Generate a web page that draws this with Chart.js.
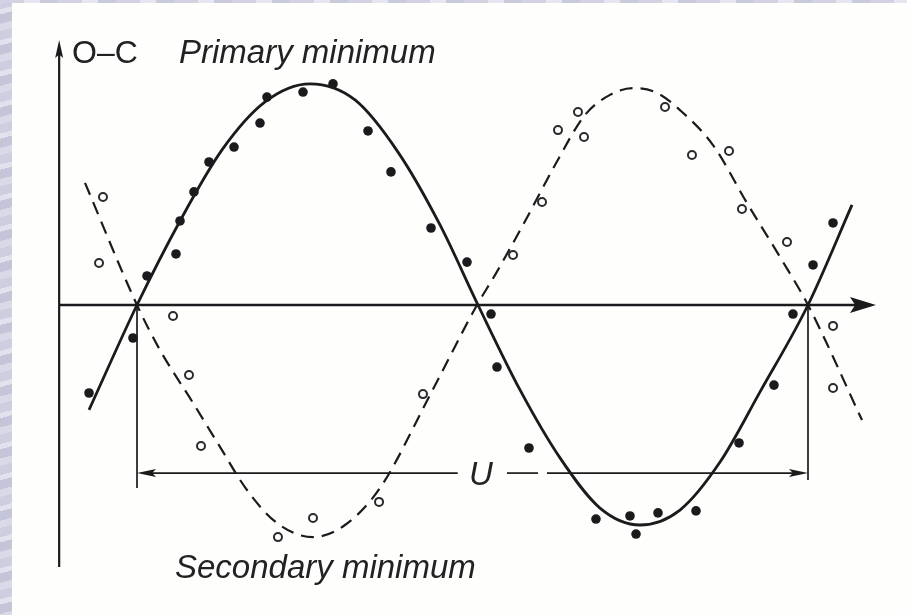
<!DOCTYPE html>
<html>
<head>
<meta charset="utf-8">
<title>O–C diagram</title>
<script src="https://cdn.jsdelivr.net/npm/chart.js@4/dist/chart.umd.min.js"></script>
<style>
  html, body { margin: 0; padding: 0; background: #fff; }
  #wrap { position: relative; width: 907px; height: 615px; background: #fefefd; overflow: hidden; }
  #edgeL {
    position: absolute; left: 0; top: 0; width: 12px; height: 615px;
    background: repeating-linear-gradient(165deg, #cdcee0 0 9px, #e2e2ee 9px 14px, #c4c5d9 14px 23px, #d9d9e8 23px 30px);
  }
  #edgeT {
    position: absolute; left: 0; top: 0; width: 907px; height: 3px;
    background: repeating-linear-gradient(90deg, #d2d2e2 0 24px, #e6e6f0 24px 40px, #c9cadc 40px 58px);
  }
  canvas { position: absolute; left: 0; top: 0; }
</style>
</head>
<body>
<div id="wrap">
  <div id="edgeL"></div>
  <div id="edgeT"></div>
  <canvas id="grafico" width="907" height="615"></canvas>
</div>
<script>
// phase in units of the apsidal period U, O-C in units of the amplitude

// fitted curve for the primary minima (solid)
const curvaPrimPhase = [-0.0715, 0, 0.0641, 0.1267, 0.1908, 0.2578, 0.3249, 0.389, 0.4516, 0.5082,
  0.5708, 0.6304, 0.69, 0.7496, 0.8092, 0.8689, 0.9285, 1.0, 1.0656];
const curvaPrimOC = [-0.477, 0, 0.382, 0.705, 0.923, 1.005, 0.932, 0.695, 0.364, 0,
  -0.386, -0.695, -0.923, -1.0, -0.932, -0.714, -0.395, 0, 0.455];

// fitted curve for the secondary minima (dashed)
const curvaSecPhase = [-0.0775, 0, 0.0343, 0.0835, 0.1237, 0.1639, 0.2086, 0.2623, 0.31, 0.3621, 0.4367, 0.5067,
  0.5335, 0.5753, 0.623, 0.6677, 0.7049, 0.7392, 0.775, 0.8092, 0.8584, 0.909, 0.9583, 1.0, 1.0805];
const curvaSecOC = [0.555, 0, -0.205, -0.445, -0.645, -0.841, -0.991, -1.055, -1.0, -0.832, -0.409, 0,
  0.136, 0.364, 0.636, 0.864, 0.955, 0.986, 0.964, 0.886, 0.727, 0.464, 0.218, 0, -0.523];

// observed primary minima (filled dots)
const primPhase = [-0.0715, -0.006, 0.0149, 0.0581, 0.0641, 0.0849, 0.1073, 0.1446, 0.1833, 0.1937,
  0.2474, 0.2921, 0.3443, 0.3785, 0.4382, 0.4918, 0.5276, 0.5365, 0.5842, 0.684, 0.7347, 0.7437,
  0.7765, 0.8331, 0.8972, 0.9493, 0.9776, 1.0075, 1.0373];
const primOC = [-0.4, -0.15, 0.132, 0.232, 0.382, 0.514, 0.65, 0.718, 0.827, 0.945,
  0.968, 1.005, 0.791, 0.605, 0.35, 0.195, -0.041, -0.282, -0.65, -0.973, -0.959, -1.041,
  -0.945, -0.936, -0.627, -0.364, -0.041, 0.182, 0.373];

// observed secondary minima (open circles)
const secPhase = [-0.0566, -0.0507, 0.0537, 0.0775, 0.0954, 0.2101, 0.2623, 0.3607, 0.4262, 0.5604,
  0.6036, 0.6274, 0.6572, 0.6662, 0.7869, 0.8271, 0.8823, 0.9016, 0.9687, 1.0373, 1.0373];
const secOC = [0.191, 0.491, -0.05, -0.318, -0.641, -1.055, -0.968, -0.895, -0.405, 0.227,
  0.468, 0.795, 0.877, 0.764, 0.9, 0.682, 0.7, 0.436, 0.286, -0.095, -0.377];

// axis frame and the U bracket
const eixoPhase = -0.116;
const eixoFimPhase = 1.1013;
const eixoTopo = 1.2045;
const eixoBase = -1.191;
const quedaEsq = -0.832;
const quedaDir = -0.795;
const nivelU = -0.764;

const cor = '#1b1b1d';

function pares(xs, ys) {
  return xs.map((x, i) => ({ x: x, y: ys[i] }));
}

function seta(ctx, x, y, ang, comp, meia) {
  ctx.save();
  ctx.translate(x, y);
  ctx.rotate(ang);
  ctx.beginPath();
  ctx.moveTo(0, 0);
  ctx.lineTo(-comp, -meia);
  ctx.lineTo(-comp * 0.8, 0);
  ctx.lineTo(-comp, meia);
  ctx.closePath();
  ctx.fill();
  ctx.restore();
}

function linha(ctx, x1, y1, x2, y2, w) {
  ctx.lineWidth = w;
  ctx.beginPath();
  ctx.moveTo(x1, y1);
  ctx.lineTo(x2, y2);
  ctx.stroke();
}

const eixosPlugin = {
  id: 'eixos',
  beforeDatasetsDraw(chart) {
    const ctx = chart.ctx;
    const sx = chart.scales.x, sy = chart.scales.y;
    const xa = sx.getPixelForValue(eixoPhase);
    const xf = sx.getPixelForValue(eixoFimPhase);
    const y0 = sy.getPixelForValue(0);
    const x0 = sx.getPixelForValue(0);
    const x1 = sx.getPixelForValue(1);
    const yU = sy.getPixelForValue(nivelU);

    ctx.save();
    ctx.strokeStyle = cor;
    ctx.fillStyle = cor;
    ctx.lineCap = 'butt';

    // O-C axis
    linha(ctx, xa, sy.getPixelForValue(eixoBase), xa, sy.getPixelForValue(eixoTopo) + 10, 2.2);
    seta(ctx, xa, sy.getPixelForValue(eixoTopo), -Math.PI / 2, 18, 4);

    // phase axis
    linha(ctx, xa, y0, xf - 18, y0, 2.4);
    seta(ctx, xf, y0, 0, 26, 8);

    // drop lines at the two nodes
    linha(ctx, x0, y0, x0, sy.getPixelForValue(quedaEsq), 1.7);
    linha(ctx, x1, y0, x1, sy.getPixelForValue(quedaDir), 1.7);

    // U bracket, broken around its label
    linha(ctx, x0 + 12, yU, sx.getPixelForValue(0.478), yU, 1.7);
    linha(ctx, sx.getPixelForValue(0.5514), yU, sx.getPixelForValue(0.5976), yU, 1.7);
    linha(ctx, sx.getPixelForValue(0.611), yU, x1 - 12, yU, 1.7);
    seta(ctx, x0, yU, Math.PI, 19, 4);
    seta(ctx, x1, yU, 0, 19, 4);
    ctx.restore();
  },
  afterDraw(chart) {
    const ctx = chart.ctx;
    const sx = chart.scales.x, sy = chart.scales.y;
    ctx.save();
    ctx.fillStyle = '#222224';
    ctx.textBaseline = 'alphabetic';
    ctx.textAlign = 'left';
    ctx.font = '32px "Liberation Sans", Arial, sans-serif';
    ctx.fillText('O\u2013C', 72, 63);
    ctx.font = 'italic 33px "Liberation Sans", Arial, sans-serif';
    ctx.fillText('Primary minimum', 179, 63);
    ctx.fillText('Secondary minimum', 175, 578);
    ctx.textAlign = 'center';
    ctx.fillText('U', sx.getPixelForValue(0.5127), sy.getPixelForValue(nivelU) + 12);
    ctx.restore();
  }
};

const ctx = document.getElementById('grafico').getContext('2d');

const meuChart = new Chart(ctx, {
  type: 'scatter',
  data: {
    datasets: [
      {
        label: 'Primary minimum',
        data: pares(primPhase, primOC),
        pointRadius: 4.8,
        pointBackgroundColor: cor,
        pointBorderColor: cor,
        pointBorderWidth: 0,
        showLine: false,
        order: 1
      },
      {
        label: 'Secondary minimum',
        data: pares(secPhase, secOC),
        pointRadius: 4,
        pointBackgroundColor: '#ffffff',
        pointBorderColor: '#2a2a2c',
        pointBorderWidth: 2,
        showLine: false,
        order: 2
      },
      {
        label: 'fit primary',
        data: pares(curvaPrimPhase, curvaPrimOC),
        showLine: true,
        borderColor: cor,
        borderWidth: 2.8,
        pointRadius: 0,
        cubicInterpolationMode: 'monotone',
        fill: false,
        order: 3
      },
      {
        label: 'fit secondary',
        data: pares(curvaSecPhase, curvaSecOC),
        showLine: true,
        borderColor: cor,
        borderWidth: 2.2,
        borderDash: [13, 8],
        pointRadius: 0,
        cubicInterpolationMode: 'monotone',
        fill: false,
        order: 4
      }
    ]
  },
  options: {
    responsive: false,
    maintainAspectRatio: false,
    animation: false,
    layout: { padding: 0, autoPadding: false },
    plugins: {
      legend: { display: false },
      tooltip: { enabled: false }
    },
    scales: {
      x: { type: 'linear', display: false, min: -0.20417, max: 1.14754 },
      y: { type: 'linear', display: false, min: -1.40909, max: 1.38636 }
    }
  },
  plugins: [eixosPlugin]
});
</script>
</body>
</html>
